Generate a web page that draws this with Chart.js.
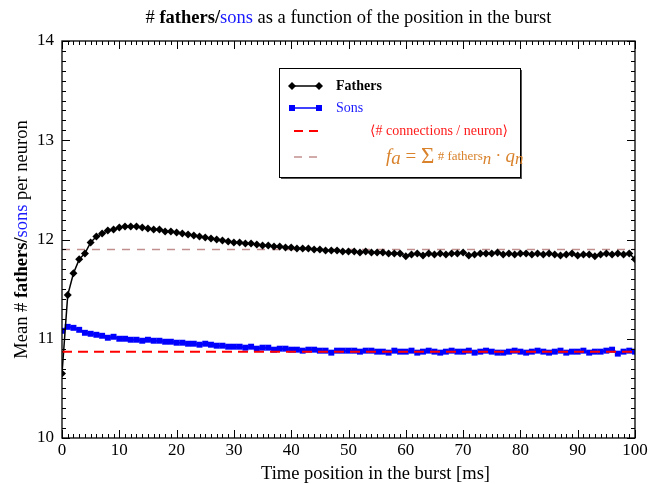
<!DOCTYPE html>
<html>
<head>
<meta charset="utf-8">
<script src="https://cdn.jsdelivr.net/npm/chart.js@4/dist/chart.umd.min.js"></script>
<style>
  html, body { margin: 0; padding: 0; background: #fff; }
  #wrap { width: 657px; height: 484px; position: relative; }
</style>
</head>
<body>
<div id="wrap"><canvas id="burstChart" width="657" height="484"></canvas></div>
<script>
// time position in the burst [ms]
const timePos = [0,1,2,3,4,5,6,7,8,9,10,11,12,13,14,15,16,17,18,19,20,21,22,23,24,25,26,27,28,29,30,
  31,32,33,34,35,36,37,38,39,40,41,42,43,44,45,46,47,48,49,50,51,52,53,54,55,56,57,58,59,60,
  61,62,63,64,65,66,67,68,69,70,71,72,73,74,75,76,77,78,79,80,81,82,83,84,85,86,87,88,89,90,
  91,92,93,94,95,96,97,98,99,100];

const fathers = [10.65,11.44,11.66,11.80,11.86,11.97,12.03,12.06,12.09,12.10,12.12,12.13,12.13,12.13,12.12,12.11,12.10,12.10,12.08,12.08,
  12.07,12.06,12.05,12.04,12.03,12.02,12.01,12.00,11.99,11.98,11.97,11.97,11.96,11.96,11.95,11.94,11.94,11.93,11.93,11.92,
  11.92,11.91,11.91,11.91,11.90,11.90,11.89,11.89,11.89,11.88,11.88,11.88,11.87,11.88,11.87,11.87,11.87,11.86,11.86,11.86,
  11.83,11.85,11.86,11.84,11.86,11.85,11.86,11.85,11.86,11.86,11.87,11.84,11.85,11.86,11.86,11.86,11.87,11.85,11.86,11.85,
  11.86,11.86,11.85,11.86,11.85,11.86,11.85,11.84,11.85,11.86,11.84,11.85,11.85,11.83,11.85,11.86,11.85,11.86,11.85,11.86,11.80];

const sons = [11.08,11.12,11.11,11.09,11.06,11.05,11.04,11.03,11.01,11.02,11.00,11.00,10.99,10.99,10.98,10.99,10.98,10.98,10.97,10.97,
  10.96,10.96,10.95,10.95,10.94,10.95,10.94,10.93,10.93,10.92,10.92,10.92,10.91,10.92,10.90,10.91,10.91,10.89,10.90,10.90,
  10.89,10.89,10.88,10.89,10.89,10.88,10.88,10.86,10.88,10.88,10.88,10.88,10.87,10.88,10.88,10.87,10.87,10.86,10.88,10.87,
  10.87,10.88,10.86,10.87,10.88,10.87,10.86,10.87,10.88,10.87,10.87,10.88,10.86,10.87,10.88,10.87,10.86,10.86,10.87,10.88,
  10.87,10.86,10.87,10.88,10.87,10.86,10.87,10.88,10.86,10.87,10.87,10.88,10.86,10.87,10.87,10.88,10.89,10.85,10.87,10.88,10.87];

const meanConnections = 10.87;   // <# connections / neuron>
const faSum = 11.9;              // f_a = sum #fathers_n * q_n

const xTicks = [0, 100, 10];     // min, max, step
const yTicks = [10, 14, 1];

const serif = '"Liberation Serif", "DejaVu Serif", serif';
const faColor = '#c28f8f';

function toPts(xs, ys) { return xs.map((x, i) => ({ x: x, y: ys[i] })); }
function flat(v) { return [{ x: xTicks[0], y: v }, { x: xTicks[1], y: v }]; }

// draw a sequence of [text, font, color, dx, dy] pieces starting at x
function drawRich(ctx, parts, x, y) {
    parts.forEach(p => {
        ctx.font = p[1];
        ctx.fillStyle = p[2];
        ctx.fillText(p[0], x + (p[3] || 0), y + (p[4] || 0));
        x += ctx.measureText(p[0]).width + (p[3] || 0);
    });
}
function richWidth(ctx, parts) {
    let w = 0;
    parts.forEach(p => { ctx.font = p[1]; w += ctx.measureText(p[0]).width + (p[3] || 0); });
    return w;
}

const framePlugin = {
    id: 'frame',
    afterDraw(chart) {
        const ctx = chart.ctx;
        const a = chart.chartArea;
        const xs = chart.scales.x, ys = chart.scales.y;
        ctx.save();
        ctx.strokeStyle = '#000';
        ctx.lineWidth = 1.3;
        ctx.strokeRect(a.left, a.top, a.right - a.left, a.bottom - a.top);

        ctx.lineWidth = 1;
        ctx.beginPath();
        for (let v = xTicks[0]; v <= xTicks[1]; v += 1) {
            const px = Math.round(xs.getPixelForValue(v)) + 0.5;
            const len = v % xTicks[2] === 0 ? 8 : 4;
            ctx.moveTo(px, a.bottom); ctx.lineTo(px, a.bottom - len);
            ctx.moveTo(px, a.top); ctx.lineTo(px, a.top + len);
        }
        for (let k = 0; k <= 40; k++) {
            const v = yTicks[0] + k / 10;
            const py = Math.round(ys.getPixelForValue(v)) + 0.5;
            const len = k % 10 === 0 ? 8 : 4;
            ctx.moveTo(a.left, py); ctx.lineTo(a.left + len, py);
            ctx.moveTo(a.right, py); ctx.lineTo(a.right - len, py);
        }
        ctx.stroke();

        // title
        ctx.textBaseline = 'middle';
        const title = [
            ['# ', '18.5px ' + serif, '#000'],
            ['fathers/', 'bold 18.5px ' + serif, '#000'],
            ['sons', '18.5px ' + serif, '#1a1aff'],
            [' as a function of the position in the burst', '18.5px ' + serif, '#000']
        ];
        const cx = (a.left + a.right) / 2;
        drawRich(ctx, title, cx - richWidth(ctx, title) / 2, 18);

        // x title
        ctx.font = '18.5px ' + serif;
        ctx.fillStyle = '#000';
        ctx.textAlign = 'center';
        ctx.fillText('Time position in the burst [ms]', cx + 27, 474);
        ctx.textAlign = 'left';

        // y title
        const ytitle = [
            ['Mean # ', '18.5px ' + serif, '#000'],
            ['fathers/', 'bold 18.5px ' + serif, '#000'],
            ['sons', '18.5px ' + serif, '#1a1aff'],
            [' per neuron', '18.5px ' + serif, '#000']
        ];
        ctx.save();
        ctx.translate(22, (a.top + a.bottom) / 2);
        ctx.rotate(-Math.PI / 2);
        drawRich(ctx, ytitle, -richWidth(ctx, ytitle) / 2, 0);
        ctx.restore();

        // legend
        const L = 279, T = 68, R = 520, B = 177;
        ctx.fillStyle = '#fff';
        ctx.fillRect(L, T, R - L, B - T);
        ctx.fillStyle = '#555';
        ctx.fillRect(L + 2, B, R - L, 2);
        ctx.fillRect(R, T + 2, 2, B - T);
        ctx.strokeStyle = '#000';
        ctx.lineWidth = 1;
        ctx.strokeRect(L + 0.5, T + 0.5, R - L, B - T);

        // fathers entry
        let y = 86;
        ctx.strokeStyle = '#000'; ctx.lineWidth = 1.5;
        ctx.beginPath(); ctx.moveTo(292, y); ctx.lineTo(319, y); ctx.stroke();
        ctx.fillStyle = '#000';
        [292, 319].forEach(px => {
            ctx.beginPath();
            ctx.moveTo(px, y - 4); ctx.lineTo(px + 4, y); ctx.lineTo(px, y + 4); ctx.lineTo(px - 4, y);
            ctx.closePath(); ctx.fill();
        });
        drawRich(ctx, [['Fathers', 'bold 14px ' + serif, '#000']], 336, y);

        // sons entry
        y = 108;
        ctx.strokeStyle = '#0000ff'; ctx.lineWidth = 1.5;
        ctx.beginPath(); ctx.moveTo(292, y); ctx.lineTo(319, y); ctx.stroke();
        ctx.fillStyle = '#0000ff';
        ctx.fillRect(289, y - 3, 6, 6); ctx.fillRect(316, y - 3, 6, 6);
        drawRich(ctx, [['Sons', '14px ' + serif, '#1a1aff']], 336, y);

        // mean connections entry
        y = 131;
        ctx.strokeStyle = '#ff0000'; ctx.lineWidth = 2;
        ctx.setLineDash([9, 6]);
        ctx.beginPath(); ctx.moveTo(294, y); ctx.lineTo(318, y); ctx.stroke();
        drawRich(ctx, [['\u27E8# connections / neuron\u27E9', '14px ' + serif, '#ff1a1a']], 370, y);

        // fa entry
        y = 157;
        ctx.strokeStyle = faColor; ctx.lineWidth = 1.5;
        ctx.setLineDash([8, 7]);
        ctx.beginPath(); ctx.moveTo(294, y); ctx.lineTo(318, y); ctx.stroke();
        ctx.setLineDash([]);
        const orange = '#d9822b';
        drawRich(ctx, [
            ['f', 'italic 19px ' + serif, orange],
            ['a', 'italic 19px ' + serif, orange, 0, 2],
            [' = ', '19px ' + serif, orange],
            ['\u03A3', '23px ' + serif, orange],
            [' # fathers', '13px ' + serif, orange],
            ['n', 'italic 17px ' + serif, orange, 0, 3],
            [' \u00B7 ', '17px ' + serif, orange],
            ['q', 'italic 19px ' + serif, orange],
            ['n', 'italic 17px ' + serif, orange, 0, 3]
        ], 386, y);

        ctx.restore();
    }
};

new Chart(document.getElementById('burstChart').getContext('2d'), {
    type: 'line',
    data: {
        datasets: [
            {
                label: '<# connections / neuron>',
                data: flat(meanConnections),
                borderColor: '#ff0000',
                borderWidth: 2,
                borderDash: [10, 6],
                pointRadius: 0,
                order: 0
            },
            {
                label: 'Fathers',
                data: toPts(timePos, fathers),
                borderColor: '#000',
                backgroundColor: '#000',
                borderWidth: 1.5,
                pointStyle: 'rectRot',
                pointRadius: 4,
                pointBorderWidth: 0,
                tension: 0,
                order: 1
            },
            {
                label: 'Sons',
                data: toPts(timePos, sons),
                borderColor: '#0000ff',
                backgroundColor: '#0000ff',
                borderWidth: 2,
                pointStyle: 'rect',
                pointRadius: 4.2,
                pointBorderWidth: 0,
                tension: 0,
                order: 2
            },
            {
                label: 'f_a',
                data: flat(faSum),
                borderColor: faColor,
                borderWidth: 1.5,
                borderDash: [8, 7],
                pointRadius: 0,
                order: 3
            }
        ]
    },
    options: {
        responsive: false,
        animation: false,
        maintainAspectRatio: false,
        layout: { padding: { left: 0, right: 22, top: 41, bottom: 0 } },
        plugins: {
            legend: { display: false },
            title: { display: false },
            tooltip: { enabled: false }
        },
        scales: {
            x: {
                type: 'linear',
                min: xTicks[0], max: xTicks[1],
                ticks: { stepSize: xTicks[2], color: '#000', padding: 2, maxRotation: 0,
                         font: { family: serif, size: 17 } },
                grid: { display: false, drawTicks: false },
                border: { display: false },
                afterFit(scale) { scale.height = 46; }
            },
            y: {
                min: yTicks[0], max: yTicks[1],
                ticks: { stepSize: yTicks[2], color: '#000', padding: 8,
                         font: { family: serif, size: 17 } },
                grid: { display: false, drawTicks: false },
                border: { display: false },
                afterFit(scale) { scale.width = 62; }
            }
        }
    },
    plugins: [framePlugin]
});
</script>
</body>
</html>
